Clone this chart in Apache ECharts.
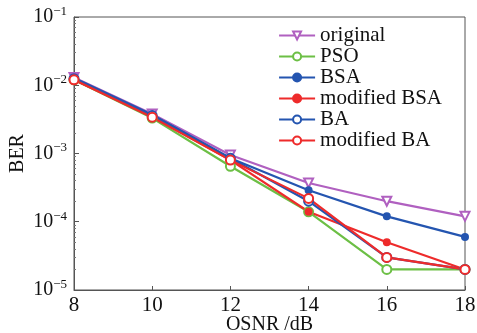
<!DOCTYPE html>
<html>
<head>
<meta charset="UTF-8">
<title>BER vs OSNR</title>
<script src="https://cdn.jsdelivr.net/npm/echarts@6/dist/echarts.min.js"></script>
<style>
  html, body { margin: 0; padding: 0; background: #fff; }
  #chart { width: 477px; height: 333px; }
</style>
</head>
<body>
<div id="chart"></div>
<script>
// data
var osnr = [8, 10, 12, 14, 16, 18];
var original    = [0.0130, 0.0038, 0.00095, 0.00037, 0.00020, 0.00012];
var pso         = [0.0120, 0.0033, 0.00065, 0.00014, 0.00002, 0.00002];
var bsa         = [0.0128, 0.0037, 0.00085, 0.00029, 0.00012, 0.00006];
var modifiedBsa = [0.0120, 0.0035, 0.00080, 0.00014, 0.00005, 0.00002];
var ba          = [0.0125, 0.0036, 0.00085, 0.00020, 0.00003, 0.00002];
var modifiedBa  = [0.0120, 0.0034, 0.00080, 0.00022, 0.00003, 0.00002];

var serif = '"Liberation Serif", "DejaVu Serif", serif';

function pairs(ys) {
    return osnr.map(function (x, i) { return [x, ys[i]]; });
}

function line(name, ys, color, symbol, size, filled) {
    return {
        name: name,
        type: 'line',
        data: pairs(ys),
        symbol: symbol,
        symbolSize: size,
        symbolRotate: symbol === 'triangle' ? 180 : 0,
        lineStyle: { color: color, width: 2.2 },
        itemStyle: {
            color: filled ? color : '#fff',
            borderColor: color,
            borderWidth: 2
        },
        emphasis: { disabled: true },
        z: 2
    };
}

var chart = echarts.init(document.getElementById('chart'));

var option = {
    animation: false,
    textStyle: { fontFamily: serif, color: '#111' },
    grid: {
        left: 74, right: 12, top: 17, bottom: 43,
        outerBoundsMode: 'none',
        show: true, borderColor: '#555', borderWidth: 1
    },
    legend: {
        orient: 'vertical',
        right: 30, top: 20,
        itemGap: 0,
        itemWidth: 36, itemHeight: 10,
        textStyle: { fontFamily: serif, fontSize: 21, color: '#111' },
        data: ['original', 'PSO', 'BSA', 'modified BSA', 'BA', 'modified BA']
    },
    xAxis: {
        type: 'value',
        min: 8, max: 18, interval: 2,
        name: 'OSNR /dB',
        nameLocation: 'middle',
        nameGap: 25,
        nameMoveOverlap: false,
        nameTextStyle: { fontFamily: serif, fontSize: 20, color: '#111' },
        axisLine: { lineStyle: { color: '#555' } },
        axisTick: { inside: true, length: 4, lineStyle: { color: '#555' } },
        axisLabel: { fontFamily: serif, fontSize: 21, color: '#111', margin: 5 },
        splitLine: { show: false }
    },
    yAxis: {
        type: 'log',
        logBase: 10,
        min: 1e-5, max: 1e-1,
        name: 'BER',
        nameLocation: 'middle',
        nameGap: 46,
        nameRotate: 90,
        nameMoveOverlap: false,
        nameTextStyle: { fontFamily: serif, fontSize: 20, color: '#111' },
        axisLine: { lineStyle: { color: '#555' } },
        axisTick: { inside: true, length: 5, lineStyle: { color: '#555' } },
        minorTick: { show: true, splitNumber: 9, length: 2, lineStyle: { color: '#777' } },
        axisLabel: {
            margin: 7,
            formatter: function (v) {
                var e = Math.round(Math.log10(v));
                return '{b|10}{s|' + (e < 0 ? '\u2212' + (-e) : e) + '}';
            },
            rich: {
                b: { fontFamily: serif, fontSize: 20, color: '#111' },
                s: { fontFamily: serif, fontSize: 13, color: '#111', verticalAlign: 'bottom', padding: [0, 0, 11, 0] }
            }
        },
        splitLine: { show: false }
    },
    series: [
        line('original', original, '#b060c0', 'triangle', 9, false),
        line('PSO', pso, '#6cbf45', 'circle', 9, false),
        line('BSA', bsa, '#2455b0', 'circle', 6, true),
        line('modified BSA', modifiedBsa, '#ee2b2b', 'circle', 6, true),
        line('BA', ba, '#2455b0', 'circle', 9, false),
        line('modified BA', modifiedBa, '#ee2b2b', 'circle', 9, false)
    ]
};

chart.setOption(option);
</script>
</body>
</html>
